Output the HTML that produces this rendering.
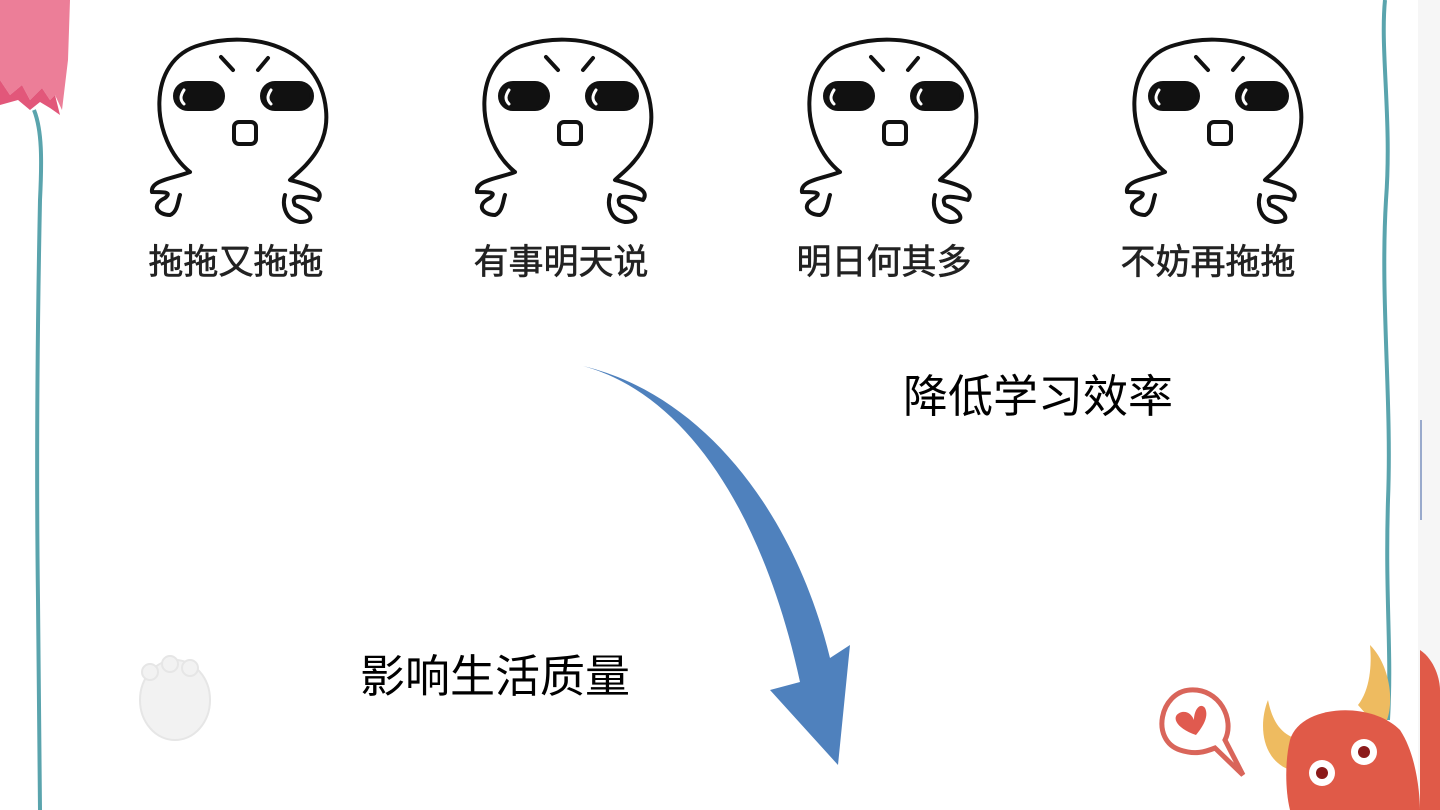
<!DOCTYPE html>
<html><head><meta charset="utf-8"><style>
html,body{margin:0;padding:0;background:#fff;}
.wrap{position:relative;width:1440px;height:810px;overflow:hidden;background:#fff;font-family:"Liberation Sans","Noto Sans CJK SC",sans-serif;}
.lbl{position:absolute;color:#222;font-size:35px;white-space:nowrap;transform:translateX(-50%);-webkit-text-stroke:0.6px #222;}
.big{position:absolute;color:#000;font-size:45px;white-space:nowrap;}
</style></head><body><div class="wrap">
<svg width="1440" height="810" style="position:absolute;left:0;top:0">
<defs>
<g id="c" fill="none" stroke="#111" stroke-width="4" stroke-linecap="round" stroke-linejoin="round">
<path d="M190,172 C150,140 145,60 200,45 C250,30 320,45 326,110 C330,150 300,170 290,180 C310,185 325,190 318,200 C300,195 290,195 295,205 C310,210 318,222 300,222 C285,220 282,205 285,195 M190,172 C175,178 150,180 152,192 C165,192 172,192 165,198 C150,205 158,215 170,215 C178,212 178,200 180,195"/>
<path d="M221,57 L233,70 M258,70 L268,58"/>
<rect x="175" y="83" width="48" height="26" rx="13" fill="#111"/>
<rect x="262" y="83" width="50" height="26" rx="13" fill="#111"/>
<path d="M184,90 C180,96 180,100 184,104" stroke="#fff" stroke-width="3"/>
<path d="M271,90 C267,96 267,100 271,104" stroke="#fff" stroke-width="3"/>
<rect x="234" y="122" width="22" height="22" rx="5"/>
</g>
</defs>
<use href="#c"/>
<use href="#c" transform="translate(325,0)"/>
<use href="#c" transform="translate(650,0)"/>
<use href="#c" transform="translate(975,0)"/>
<path d="M0,0 L70,0 L68,60 L62,110 L55,95 L50,100 L42,88 L30,100 L22,85 L10,95 L0,80 Z" fill="#ec7e98"/>
<path d="M0,80 L10,95 L22,85 L30,100 L42,88 L50,100 L55,95 L60,115 L50,108 L40,102 L30,110 L18,100 L0,105 Z" fill="#e2577a"/>
<path d="M34,110 C42,130 42,160 40,200 C38,300 36,450 38,600 C39,700 40,760 40,810" stroke="#5aa4ad" stroke-width="4" fill="none"/>
<path d="M1385,0 C1380,50 1392,120 1386,200 C1380,300 1392,400 1388,500 C1385,600 1392,650 1388,720" stroke="#5aa4ad" stroke-width="4" fill="none"/>
<rect x="1418" y="0" width="22" height="810" fill="#f6f6f6"/>
<path d="M1421,420 L1421,520" stroke="#9ac" stroke-width="2"/>
<g fill="#f2f2f2" stroke="#e6e6e6" stroke-width="2">
<ellipse cx="175" cy="700" rx="35" ry="40"/>
<circle cx="150" cy="672" r="8"/><circle cx="170" cy="664" r="8"/><circle cx="190" cy="668" r="8"/>
</g>
<path d="M1190,690 C1160,692 1150,740 1180,750 C1195,755 1205,752 1215,748 L1243,775 L1225,740 C1235,720 1220,688 1190,690 Z" fill="#fff" stroke="#d9655a" stroke-width="5"/>
<path d="M1196,735 C1175,728 1170,715 1182,712 C1188,711 1192,715 1194,720 C1194,710 1200,702 1205,708 C1210,718 1200,730 1196,735 Z" fill="#e05a4f"/>
<path d="M1268,700 C1258,725 1262,760 1290,770 L1300,740 C1280,735 1272,720 1268,700 Z" fill="#eebb60"/>
<path d="M1370,645 C1395,670 1395,720 1380,730 L1358,705 C1370,690 1372,665 1370,645 Z" fill="#eebb60"/>
<path d="M1290,740 C1300,705 1370,700 1400,730 C1420,760 1420,810 1420,810 L1290,810 C1285,790 1285,760 1290,740 Z" fill="#e05a48"/>
<circle cx="1322" cy="773" r="13" fill="#fff"/><circle cx="1322" cy="773" r="6" fill="#8b1a1a"/>
<circle cx="1364" cy="752" r="13" fill="#fff"/><circle cx="1364" cy="752" r="6" fill="#8b1a1a"/>
<path d="M1420,650 C1435,660 1440,680 1440,690 L1440,810 L1420,810 Z" fill="#e05a48"/>
<path d="M583,366 C690,395 765,520 800,682 L770,690 L838,765 L850,645 L830,658 C795,515 705,395 583,366 Z" fill="#4f81bd"/>
</svg>
<div class="lbl" style="left:236px;top:234px">拖拖又拖拖</div>
<div class="lbl" style="left:561px;top:234px">有事明天说</div>
<div class="lbl" style="left:884px;top:234px">明日何其多</div>
<div class="lbl" style="left:1208px;top:234px">不妨再拖拖</div>
<div class="big" style="left:903px;top:360px">降低学习效率</div>
<div class="big" style="left:360px;top:640px">影响生活质量</div>
</div></body></html>
